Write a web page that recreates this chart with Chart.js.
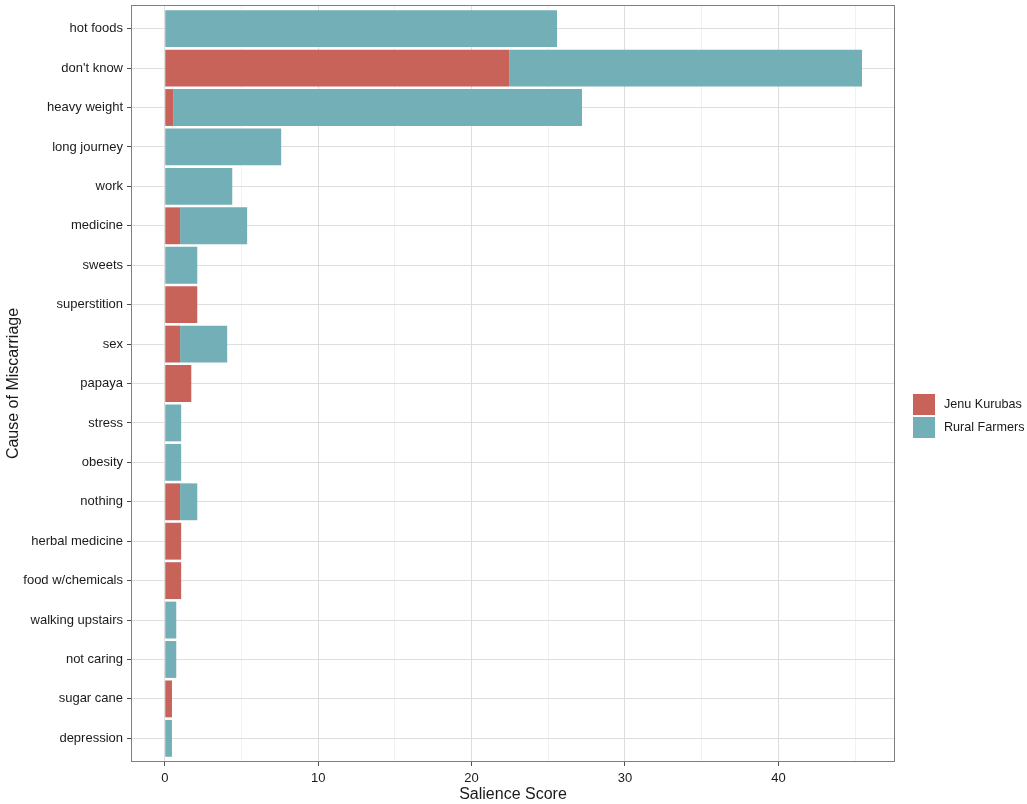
<!DOCTYPE html>
<html>
<head>
	<meta charset="UTF-8">
	<title>Cause of Miscarriage</title>
	<script src="https://cdn.jsdelivr.net/npm/chart.js@4"></script>
	<style>
		body { margin: 0; background: #fff; }
		#holder { width: 1027px; height: 804px; }
	</style>
</head>
<body>
	<div id="holder"><canvas id="chart-area"></canvas></div>

<script>
	var causes = ['hot foods', "don't know", 'heavy weight', 'long journey', 'work', 'medicine', 'sweets',
		'superstition', 'sex', 'papaya', 'stress', 'obesity', 'nothing', 'herbal medicine',
		'food w/chemicals', 'walking upstairs', 'not caring', 'sugar cane', 'depression'];
	var jenuKurubas = [0, 22.45, 0.55, 0, 0, 1.0, 0, 2.12, 1.0, 1.73, 0, 0, 1.0, 1.07, 1.07, 0, 0, 0.47, 0];
	var ruralFarmers = [25.57, 23.0, 26.65, 7.59, 4.4, 4.37, 2.12, 0, 3.07, 0, 1.07, 1.07, 1.12, 0, 0, 0.75, 0.75, 0, 0.47];
	var xTicks = [0, 10, 20, 30, 40];

	Chart.defaults.font.family = '"Liberation Sans", Arial, sans-serif';
	Chart.defaults.color = '#1a1a1a';

	// each cause sits at its index on a numeric y scale (ggplot pads 0.6 each end)
	function toPoints(arr) {
		return arr.map(function (v, i) { return { x: v, y: i }; });
	}

	// panel border + hand-drawn legend box (ggplot look)
	var ggExtras = {
		id: 'ggExtras',
		afterDraw: function (chart) {
			var c = chart.ctx, a = chart.chartArea;
			c.save();
			c.strokeStyle = '#7f7f7f';
			c.lineWidth = 1;
			c.strokeRect(a.left + 0.5, a.top + 0.5, a.right - a.left - 1, a.bottom - a.top - 1);

			var y = 393;
			c.font = '12.6px "Liberation Sans", Arial, sans-serif';
			c.textBaseline = 'middle';
			chart.data.datasets.forEach(function (ds) {
				c.fillStyle = ds.backgroundColor;
				c.fillRect(912, y, 24, 23);
				c.strokeStyle = '#ffffff';
				c.strokeRect(912.5, y + 0.5, 23, 22);
				c.fillStyle = '#1a1a1a';
				c.fillText(ds.label, 944, y + 12);
				y += 23;
			});
			c.restore();
		}
	};

	var config = {
		type: 'bar',
		data: {
			datasets: [{
				label: 'Jenu Kurubas',
				data: toPoints(jenuKurubas),
				backgroundColor: '#c8635a'
			}, {
				label: 'Rural Farmers',
				data: toPoints(ruralFarmers),
				backgroundColor: '#72afb6'
			}]
		},
		options: {
			indexAxis: 'y',
			responsive: true,
			maintainAspectRatio: false,
			animation: false,
			layout: { padding: { top: 5, right: 132, left: 0, bottom: 0 } },
			datasets: {
				bar: { categoryPercentage: 0.935, barPercentage: 1, borderWidth: 0 }
			},
			plugins: {
				legend: { display: false },
				tooltip: { enabled: false }
			},
			scales: {
				x: {
					type: 'linear',
					stacked: true,
					min: -2.2,
					max: 47.6,
					afterBuildTicks: function (scale) {
						var t = [];
						for (var v = 0; v <= 45; v += 5) t.push({ value: v });
						scale.ticks = t;
					},
					afterFit: function (scale) {
						scale.height = 42;
						scale.paddingLeft = 0;
						scale.paddingRight = 0;
					},
					border: { display: false },
					grid: {
						color: function (ctx) {
							return xTicks.indexOf(ctx.tick.value) >= 0 ? '#dedede' : '#f1f1f1';
						},
						tickColor: function (ctx) {
							return xTicks.indexOf(ctx.tick.value) >= 0 ? '#4d4d4d' : 'rgba(0,0,0,0)';
						},
						tickLength: 4,
						lineWidth: 1
					},
					ticks: {
						autoSkip: false,
						maxRotation: 0,
						padding: 5,
						font: { size: 13 },
						callback: function (v) { return xTicks.indexOf(v) >= 0 ? v : ''; }
					},
					title: {
						display: true,
						text: 'Salience Score',
						font: { size: 16 },
						padding: { top: 0, bottom: 0 }
					}
				},
				y: {
					type: 'linear',
					stacked: true,
					reverse: true,
					offset: false,
					min: -0.6,
					max: causes.length - 1 + 0.6,
					afterBuildTicks: function (scale) {
						scale.ticks = causes.map(function (c, i) { return { value: i }; });
					},
					afterFit: function (scale) {
						scale.width = 131;
						scale.paddingTop = 0;
						scale.paddingBottom = 0;
					},
					border: { display: false },
					grid: {
						offset: false,
						color: '#dedede',
						tickColor: '#4d4d4d',
						tickLength: 4
					},
					ticks: {
						autoSkip: false,
						padding: 4,
						font: { size: 13 },
						callback: function (v) { return causes[v]; }
					},
					title: {
						display: true,
						text: 'Cause of Miscarriage',
						font: { size: 16 },
						padding: { top: 4, bottom: 0 }
					}
				}
			}
		},
		plugins: [ggExtras]
	};

	window.onload = function () {
		var ctx = document.getElementById('chart-area').getContext('2d');
		window.myBar = new Chart(ctx, config);
	};
</script>
</body>
</html>
